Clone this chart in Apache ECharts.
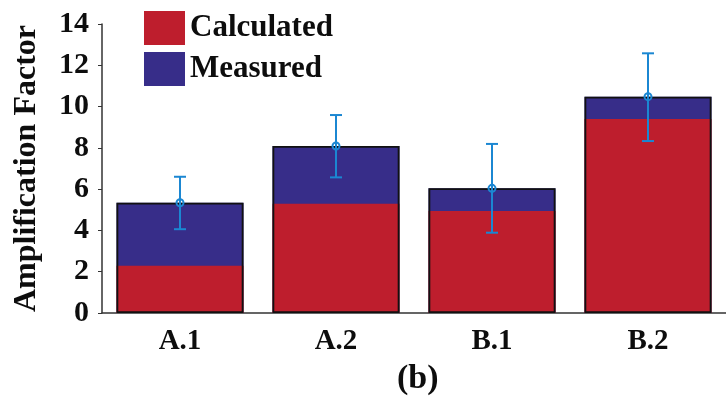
<!DOCTYPE html>
<html>
<head>
<meta charset="utf-8">
<script src="https://cdn.jsdelivr.net/npm/echarts@6/dist/echarts.min.js"></script>
<style>
  html, body { margin: 0; padding: 0; background: #fff; }
  #chart { width: 726px; height: 404px; }
</style>
</head>
<body>
<div id="chart"></div>
<script>
// data
var categories = ['A.1', 'A.2', 'B.1', 'B.2'];
var calculated = [2.29, 5.29, 4.94, 9.40];
var measured = [5.34, 8.09, 6.04, 10.48];
var errLow = [4.06, 6.57, 3.89, 8.33];
var errHigh = [6.60, 9.59, 8.19, 12.58];
var yTicks = [0, 2, 4, 6, 8, 10, 12, 14];

var serif = '"Liberation Serif", "DejaVu Serif", serif';
var red = '#be1e2d';
var blue = '#372d89';
var errColor = '#1b87d2';

var errData = categories.map(function (c, i) {
  return [i, measured[i], errLow[i], errHigh[i]];
});

var myChart = echarts.init(document.getElementById('chart'));

var option = {
  animation: false,
  title: {
    text: '(b)',
    left: 392,
    top: 357,
    textStyle: { fontFamily: serif, fontSize: 34, fontWeight: 'bold', color: '#0d0d0d' }
  },
  legend: {
    data: ['Calculated', 'Measured'],
    orient: 'vertical',
    left: 139,
    top: 6,
    itemWidth: 41,
    itemHeight: 34,
    itemGap: 7,
    icon: 'rect',
    textStyle: { fontFamily: serif, fontSize: 31, fontWeight: 'bold', color: '#0d0d0d' }
  },
  grid: { left: 102, top: 24, width: 631, bottom: 91 },
  xAxis: {
    type: 'category',
    data: categories,
    axisLine: { lineStyle: { color: '#333', width: 1.5 } },
    axisTick: { alignWithLabel: true, length: 5, lineStyle: { color: '#333' } },
    axisLabel: { margin: 14, fontFamily: serif, fontSize: 29, fontWeight: 'bold', color: '#0d0d0d' }
  },
  yAxis: {
    type: 'value',
    min: yTicks[0],
    max: yTicks[yTicks.length - 1],
    interval: 2,
    name: 'Amplification Factor',
    nameLocation: 'middle',
    nameGap: 59,
    nameTextStyle: { fontFamily: serif, fontSize: 32, fontWeight: 'bold', color: '#0d0d0d' },
    axisLine: { show: true, lineStyle: { color: '#333', width: 1.5 } },
    axisTick: { show: true, length: 4, lineStyle: { color: '#333' } },
    splitLine: { show: false },
    axisLabel: { margin: 13, fontFamily: serif, fontSize: 30, fontWeight: 'bold', color: '#0d0d0d' }
  },
  series: [
    {
      name: 'Measured',
      type: 'bar',
      data: measured,
      barWidth: 127,
      barGap: '-100%',
      itemStyle: { color: blue }
    },
    {
      name: 'Calculated',
      type: 'bar',
      data: calculated,
      barWidth: 127,
      barGap: '-100%',
      itemStyle: { color: red }
    },
    {
      name: 'outline',
      type: 'bar',
      data: measured,
      barWidth: 127,
      barGap: '-100%',
      silent: true,
      itemStyle: { color: 'rgba(0,0,0,0)', borderColor: '#111', borderWidth: 1.8 }
    },
    {
      name: 'error',
      type: 'custom',
      data: errData,
      z: 10,
      renderItem: function (params, api) {
        var mid = api.coord([api.value(0), api.value(1)]);
        var lo = api.coord([api.value(0), api.value(2)]);
        var hi = api.coord([api.value(0), api.value(3)]);
        var cap = 6;
        var st = { stroke: errColor, lineWidth: 2, fill: null };
        return {
          type: 'group',
          children: [
            { type: 'line', shape: { x1: hi[0], y1: hi[1], x2: lo[0], y2: lo[1] }, style: st },
            { type: 'line', shape: { x1: hi[0] - cap, y1: hi[1], x2: hi[0] + cap, y2: hi[1] }, style: st },
            { type: 'line', shape: { x1: lo[0] - cap, y1: lo[1], x2: lo[0] + cap, y2: lo[1] }, style: st },
            { type: 'circle', shape: { cx: mid[0], cy: mid[1], r: 3.5 }, style: { stroke: errColor, lineWidth: 2, fill: 'rgba(0,0,0,0)' } }
          ]
        };
      }
    }
  ]
};

myChart.setOption(option);
</script>
</body>
</html>
